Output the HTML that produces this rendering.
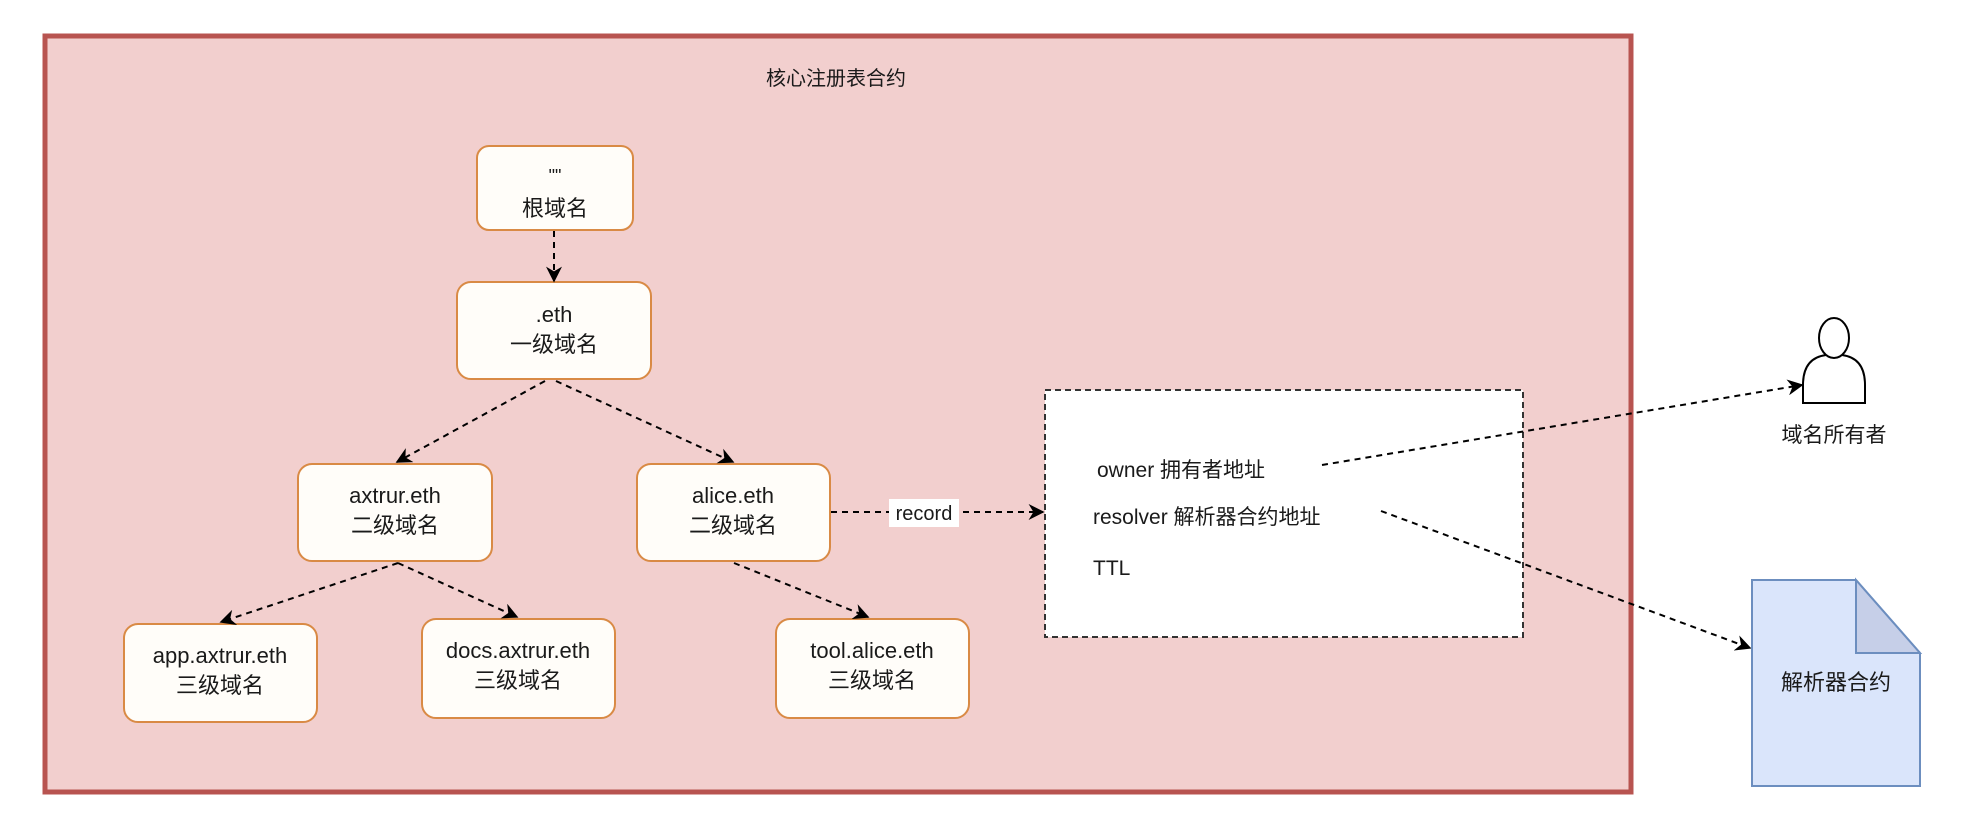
<!DOCTYPE html>
<html><head><meta charset="utf-8"><style>
body{margin:0;background:#fff;}
svg{display:block;}
text{font-family:"Liberation Sans","Noto Sans CJK SC",sans-serif;fill:#1a1a1a;}
</style></head><body>
<svg width="1962" height="819" viewBox="0 0 1962 819" xmlns="http://www.w3.org/2000/svg">
<defs>
<marker id="a" viewBox="0 0 10 10" refX="9" refY="5" markerWidth="16" markerHeight="16" orient="auto" markerUnits="userSpaceOnUse">
<path d="M0,0 L10,5 L0,10 L3,5 Z" fill="#000"/>
</marker>
</defs>
<rect x="0" y="0" width="1962" height="819" fill="#fff"/>
<rect x="45" y="36" width="1586" height="756" fill="#f2cfce" stroke="#b85450" stroke-width="5"/>
<text x="836" y="85" font-size="20" text-anchor="middle">核心注册表合约</text>

<g fill="#fffdf9" stroke="#d98a45" stroke-width="2">
<rect x="477" y="146" width="156" height="84" rx="12"/>
<rect x="457" y="282" width="194" height="97" rx="14"/>
<rect x="298" y="464" width="194" height="97" rx="14"/>
<rect x="637" y="464" width="193" height="97" rx="14"/>
<rect x="124" y="624" width="193" height="98" rx="14"/>
<rect x="422" y="619" width="193" height="99" rx="14"/>
<rect x="776" y="619" width="193" height="99" rx="14"/>
</g>
<g font-size="22" text-anchor="middle">
<text x="555" y="182" font-size="18">""</text>
<text x="555" y="216">根域名</text>
<text x="554" y="322">.eth</text>
<text x="554" y="352">一级域名</text>
<text x="395" y="503">axtrur.eth</text>
<text x="395" y="533">二级域名</text>
<text x="733" y="503">alice.eth</text>
<text x="733" y="533">二级域名</text>
<text x="220" y="663">app.axtrur.eth</text>
<text x="220" y="693">三级域名</text>
<text x="518" y="658">docs.axtrur.eth</text>
<text x="518" y="688">三级域名</text>
<text x="872" y="658">tool.alice.eth</text>
<text x="872" y="688">三级域名</text>
</g>

<rect x="1045" y="390" width="478" height="247" fill="#fff" stroke="#333" stroke-width="2" stroke-dasharray="6,4"/>
<g font-size="21">
<text x="1097" y="477">owner 拥有者地址</text>
<text x="1093" y="524">resolver 解析器合约地址</text>
<text x="1093" y="575">TTL</text>
</g>

<g stroke="#000" stroke-width="2" stroke-dasharray="6,5" fill="none" marker-end="url(#a)">
<line x1="554" y1="231" x2="554" y2="281"/>
<line x1="545" y1="381" x2="397" y2="462"/>
<line x1="556" y1="381" x2="733" y2="462"/>
<line x1="398" y1="563" x2="221" y2="622"/>
<line x1="398" y1="563" x2="517" y2="617"/>
<line x1="734" y1="563" x2="868" y2="617"/>
<line x1="831" y1="512" x2="1043" y2="512"/>
<line x1="1322" y1="465" x2="1802" y2="385"/>
<line x1="1381" y1="511" x2="1750" y2="648"/>
</g>
<rect x="889" y="499" width="70" height="28" fill="#fff"/>
<text x="924" y="520" font-size="20" text-anchor="middle">record</text>

<g fill="#fff" stroke="#000" stroke-width="2">
<path d="M1803,403 L1803,385 Q1803,358 1826,355 L1842,355 Q1865,358 1865,385 L1865,403 Z"/>
<ellipse cx="1834" cy="338" rx="15" ry="20"/>
</g>
<text x="1834" y="442" font-size="21" text-anchor="middle">域名所有者</text>

<path d="M1752,580 L1856,580 L1920,653 L1920,786 L1752,786 Z" fill="#dae5fb" stroke="#6c8ebf" stroke-width="2"/>
<path d="M1856,580 L1856,653 L1920,653 Z" fill="#c6cfe8" stroke="#6c8ebf" stroke-width="2"/>
<text x="1836" y="690" font-size="22" text-anchor="middle">解析器合约</text>
</svg>
</body></html>
